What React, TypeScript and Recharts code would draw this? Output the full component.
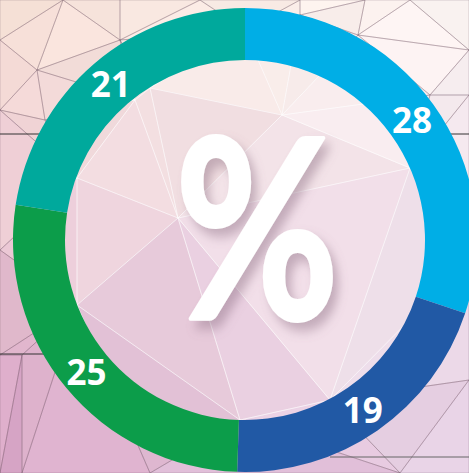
import * as React from 'react';
import { PieChart, Pie, Cell } from 'recharts';

const names = ['A', 'B', 'C', 'D'];
const values = [28, 19, 25, 21];
const COLORS = ['#00AEE6', '#2159A5', '#0C9D4A', '#00A99C'];

const data = names.map((name, i) => ({ name, value: values[i] }));

// low-poly backdrop (decoration only)
const P: Record<string, [number, number]> = {
    a: [0, 0], b: [63, 0], c: [120, 0], d: [200, 0], e: [300, 0], f: [365, 0], g: [410, 0], h: [469, 0],
    i: [0, 40], j: [37, 70], k: [120, 40], l: [150, 88], m: [245, 30], n: [300, 15], o: [358, 35], p: [469, 50],
    q: [0, 110], r: [45, 120], s: [77, 178], t: [135, 100], u: [282, 115], v: [410, 168], w: [430, 95], x: [469, 95],
    y: [0, 250], z: [178, 218], A: [77, 305], B: [22, 355], C: [0, 355], D: [469, 260], E: [330, 400],
    F: [240, 420], G: [22, 473], H: [0, 473], I: [150, 473], J: [469, 473], K: [400, 473], L: [469, 380],
};
const TRIS = [
    'abi', 'ibj', 'bkj', 'bck', 'cdk', 'dmk', 'dem', 'enm', 'efn', 'fon', 'fgo', 'gpo', 'ghp',
    'ijq', 'qjr', 'jkt', 'jtr', 'kml', 'klt', 'mnu', 'mul', 'nou', 'owu', 'opw', 'pxw',
    'qrs', 'qsy', 'rts', 'tlz', 'tzs', 'luz', 'uvz', 'uwv', 'wxv', 'xDv',
    'ysA', 'yAC', 'CAB', 'szA', 'zFA', 'zEF', 'zvE', 'vDE', 'DLE',
    'CBH', 'BGH', 'BAG', 'AIG', 'AFI', 'FKI', 'FEK', 'ELK', 'LJK',
];
const CORNERS = [[249, 228, 216], [253, 247, 245], [214, 160, 197], [232, 212, 232]];

const fieldColor = (px: number, py: number, k: number) => {
    const u = px / 469, v = py / 473;
    const c = [0, 1, 2].map(ch =>
        CORNERS[0][ch] * (1 - u) * (1 - v) + CORNERS[1][ch] * u * (1 - v) +
        CORNERS[2][ch] * (1 - u) * v + CORNERS[3][ch] * u * v + ((k % 3) - 1) * 3
    );
    return `rgb(${c.map(Math.round).join(',')})`;
};

const triPts = (t: string) => t.split('').map(ch => P[ch]);

const Backdrop = () => (
    <svg width={469} height={473} style={{ position: 'absolute', left: 0, top: 0 }}>
        <defs>
            <mask id="outside">
                <rect width={469} height={473} fill="#fff" />
                <circle cx={245} cy={240} r={181} fill="#000" />
            </mask>
            <clipPath id="inside">
                <circle cx={245} cy={240} r={181} />
            </clipPath>
        </defs>
        <rect width={469} height={473} fill={fieldColor(234, 236, 1)} />
        {TRIS.map((t, k) => {
            const pts = triPts(t);
            const cxp = (pts[0][0] + pts[1][0] + pts[2][0]) / 3;
            const cyp = (pts[0][1] + pts[1][1] + pts[2][1]) / 3;
            return (
                <polygon key={t} points={pts.map(q => q.join(',')).join(' ')}
                    fill={fieldColor(cxp, cyp, k)} stroke={fieldColor(cxp, cyp, k)} strokeWidth={0.6} />
            );
        })}
        <circle cx={245} cy={240} r={181} fill="rgba(255,255,255,0.14)" />
        <g mask="url(#outside)" fill="none" stroke="rgba(110,85,100,0.38)" strokeWidth={0.7}>
            {TRIS.map(t => <polygon key={t} points={triPts(t).map(q => q.join(',')).join(' ')} />)}
        </g>
        <g clipPath="url(#inside)" fill="none" stroke="rgba(255,255,255,0.5)" strokeWidth={0.8}>
            {TRIS.map(t => <polygon key={t} points={triPts(t).map(q => q.join(',')).join(' ')} />)}
        </g>
        <line x1={0} y1={134} x2={40} y2={134} stroke="#333" strokeWidth={1} />
        <line x1={448} y1={134} x2={469} y2={134} stroke="#333" strokeWidth={1} />
        <line x1={0} y1={354} x2={45} y2={354} stroke="#333" strokeWidth={1} />
        <line x1={330} y1={457} x2={469} y2={457} stroke="#666" strokeWidth={1} />
    </svg>
);

const RADIAN = Math.PI / 180;
const renderLabel = (props: any) => {
    const { cx, cy, midAngle, innerRadius, outerRadius, value } = props;
    const r = (innerRadius + outerRadius) / 2;
    const x = cx + r * Math.cos(-midAngle * RADIAN);
    const y = cy + r * Math.sin(-midAngle * RADIAN);
    return (
        <text x={x} y={y} fill="#fff" textAnchor="middle" dominantBaseline="central"
            fontFamily="'Open Sans', sans-serif" fontWeight={700} fontSize={35}>
            {value}
        </text>
    );
};

const PercentSign = () => (
    <svg width={469} height={473} style={{ position: 'absolute', left: 0, top: 0, pointerEvents: 'none' }}>
        <defs>
            <filter id="pshadow" x="-30%" y="-30%" width="160%" height="160%">
                <feDropShadow dx={7} dy={8} stdDeviation={6} floodColor="#8a6a80" floodOpacity={0.45} />
            </filter>
        </defs>
        <text transform="translate(257,319) scale(0.8,1)" textAnchor="middle" fill="#fff"
            stroke="#fff" strokeWidth={4} strokeLinejoin="round"
            fontFamily="Lato, sans-serif" fontWeight={700} fontSize={250} filter="url(#pshadow)">
            %
        </text>
    </svg>
);

export default function App() {
    return (
        <div style={{ position: 'absolute', left: 0, top: 0, width: 469, height: 473, overflow: 'hidden' }}>
            <Backdrop />
            <div style={{ position: 'absolute', left: 0, top: 0 }}>
                <PieChart width={469} height={473} margin={{ top: 0, right: 0, bottom: 0, left: 0 }}>
                    <Pie
                        data={data}
                        dataKey="value"
                        nameKey="name"
                        cx={245}
                        cy={240}
                        innerRadius={180}
                        outerRadius={232}
                        startAngle={90}
                        endAngle={-270}
                        stroke="none"
                        label={renderLabel}
                        labelLine={false}
                        isAnimationActive={false}
                    >
                        {data.map((entry, index) => (
                            <Cell key={`cell-${index}`} fill={COLORS[index]} />
                        ))}
                    </Pie>
                </PieChart>
            </div>
            <PercentSign />
        </div>
    );
}
